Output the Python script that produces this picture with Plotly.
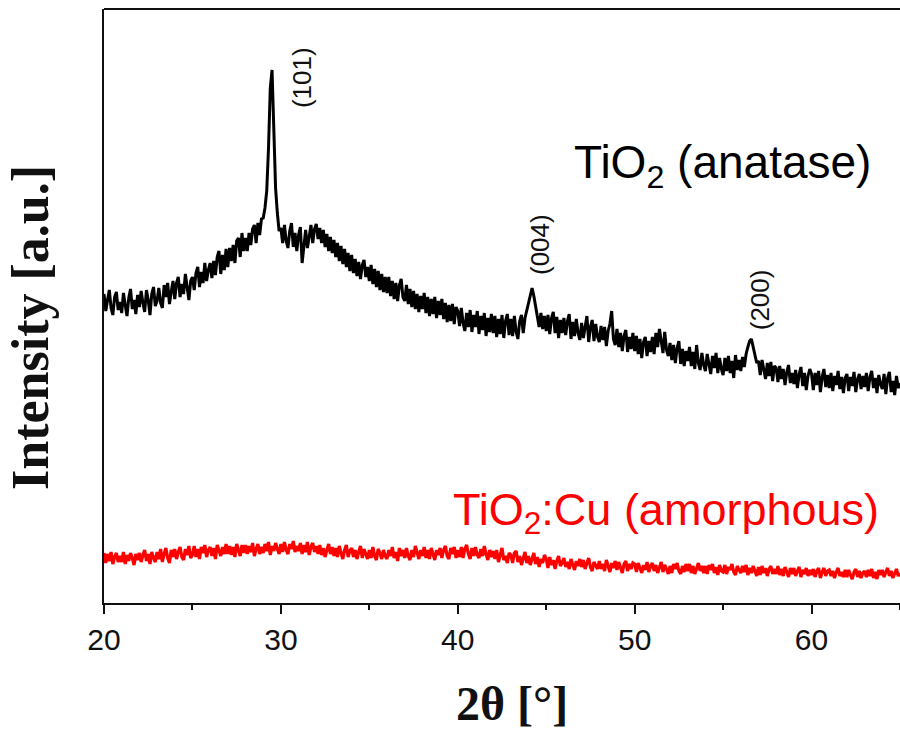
import numpy as np
import plotly.graph_objects as go

# 2-theta scan: 20.0 .. 65.0 deg in 0.1 deg steps
TWO_THETA_START = 20.0
TWO_THETA_STEP = 0.1

# TiO2 (anatase) diffractogram, intensity in arbitrary units (one row per degree)
tio2_anatase = [
    309, 292, 303, 313, 295, 288, 306, 311, 293, 301,
    290, 310, 298, 287, 305, 314, 294, 303, 289, 308,
    296, 312, 300, 291, 313, 303, 288, 309, 316, 297,
    302, 315, 300, 295, 318, 306, 320, 299, 311, 322,
    304, 320, 326, 306, 319, 309, 329, 315, 303, 322,
    326, 313, 330, 336, 316, 331, 320, 340, 322, 333,
    340, 325, 342, 328, 346, 352, 329, 348, 333, 354,
    336, 355, 342, 358, 340, 362, 365, 346, 370, 352,
    365, 352, 370, 358, 374, 378, 360, 380, 368, 384,
    385, 395, 412, 455, 515, 533, 470, 415, 390, 372,
    375, 360, 378, 362, 355, 372, 380, 356, 370, 352,
    368, 376, 340, 360, 373, 355, 369, 378, 360, 374,
    379, 364, 375, 360, 373, 356, 369, 352, 366, 350,
    363, 346, 360, 342, 357, 339, 354, 336, 350, 332,
    348, 330, 344, 327, 341, 324, 338, 343, 326, 336,
    322, 338, 319, 334, 316, 332, 313, 329, 311, 326,
    310, 326, 307, 322, 304, 320, 302, 318, 324, 306,
    302, 318, 299, 314, 296, 312, 294, 309, 291, 307,
    294, 310, 290, 306, 287, 304, 289, 306, 285, 302,
    288, 304, 284, 300, 281, 298, 282, 299, 279, 296,
    292, 277, 295, 280, 272, 290, 276, 293, 271, 288,
    276, 292, 269, 287, 273, 290, 267, 285, 271, 289,
    270, 287, 266, 284, 269, 288, 265, 282, 289, 268,
    284, 267, 287, 271, 264, 282, 288, 270, 285, 293,
    302, 310, 315, 307, 295, 284, 276, 290, 274, 287,
    272, 288, 269, 285, 291, 270, 286, 265, 283, 270,
    285, 268, 282, 289, 264, 281, 267, 284, 270, 263,
    280, 265, 277, 287, 261, 276, 283, 262, 279, 266,
    261, 277, 263, 276, 257, 272, 279, 292, 264, 258,
    274, 256, 270, 252, 267, 273, 251, 266, 254, 270,
    252, 267, 249, 264, 245, 261, 266, 247, 262, 251,
    266, 249, 270, 256, 274, 262, 250, 271, 253, 247,
    260, 243, 258, 240, 255, 262, 239, 254, 237, 252,
    242, 256, 237, 251, 234, 258, 240, 233, 250, 238,
    232, 249, 237, 229, 247, 235, 250, 230, 245, 234,
    228, 245, 232, 247, 230, 242, 225, 248, 233, 243,
    232, 246, 236, 249, 256, 262, 264, 257, 249, 240,
    242, 228, 243, 232, 224, 240, 227, 241, 222, 237,
    235, 221, 237, 224, 234, 218, 231, 238, 220, 230,
    219, 233, 215, 229, 236, 217, 230, 213, 227, 234,
    229, 213, 230, 218, 232, 211, 226, 234, 216, 228,
    215, 230, 212, 227, 218, 232, 214, 226, 210, 225,
    229, 212, 226, 217, 231, 211, 224, 229, 214, 227,
    216, 230, 212, 226, 232, 215, 225, 210, 228, 219,
    214, 229, 209, 225, 231, 211, 222, 208, 227, 215,
    220,
]

# TiO2:Cu (amorphous) diffractogram
tio2_cu = [
    50, 40, 49, 42, 51, 39, 46, 50, 41, 47,
    41, 51, 39, 48, 42, 50, 45, 38, 49, 43,
    50, 41, 48, 53, 42, 49, 39, 51, 45, 41,
    51, 44, 54, 41, 49, 55, 45, 40, 53, 46,
    54, 44, 51, 56, 46, 43, 54, 48, 57, 45,
    48, 57, 46, 54, 44, 56, 50, 58, 46, 53,
    56, 47, 55, 44, 58, 52, 47, 56, 49, 59,
    49, 57, 48, 56, 46, 59, 53, 47, 58, 50,
    58, 49, 57, 51, 60, 47, 54, 59, 49, 56,
    50, 59, 52, 61, 48, 57, 52, 60, 54, 49,
    59, 51, 61, 53, 49, 59, 54, 62, 51, 57,
    52, 60, 49, 58, 51, 61, 48, 56, 60, 51,
    57, 49, 58, 48, 55, 46, 53, 59, 49, 56,
    47, 55, 46, 57, 50, 44, 53, 58, 46, 52,
    55, 46, 53, 44, 51, 57, 45, 54, 49, 44,
    53, 45, 56, 47, 43, 54, 50, 44, 53, 47,
    44, 53, 47, 56, 45, 51, 42, 55, 47, 53,
    45, 55, 47, 43, 53, 46, 57, 50, 44, 53,
    47, 56, 45, 53, 44, 55, 50, 43, 53, 48,
    55, 45, 53, 57, 47, 44, 55, 49, 56, 45,
    53, 46, 56, 45, 54, 58, 49, 44, 55, 47,
    56, 48, 45, 54, 47, 57, 49, 43, 53, 46,
    52, 44, 53, 41, 48, 55, 43, 47, 40, 50,
    48, 40, 50, 52, 41, 47, 38, 44, 51, 40,
    47, 38, 45, 50, 39, 46, 36, 44, 40, 48,
    44, 35, 46, 38, 43, 34, 42, 47, 37, 40,
    45, 36, 41, 34, 44, 39, 33, 42, 37, 44,
    36, 43, 34, 40, 45, 36, 32, 41, 38, 34,
    42, 34, 39, 32, 43, 36, 31, 40, 35, 42,
    33, 41, 36, 30, 39, 42, 32, 39, 34, 40,
    39, 31, 40, 35, 30, 38, 33, 41, 31, 37,
    40, 32, 38, 30, 36, 41, 31, 38, 34, 29,
    37, 30, 39, 34, 40, 32, 29, 37, 31, 39,
    32, 39, 30, 37, 29, 36, 40, 32, 37, 30,
    37, 29, 38, 33, 39, 30, 36, 28, 38, 32,
    31, 38, 29, 36, 33, 39, 31, 28, 37, 33,
    30, 37, 31, 38, 28, 35, 30, 37, 32, 27,
    36, 28, 37, 30, 35, 27, 34, 37, 29, 34,
    29, 37, 28, 34, 27, 36, 31, 26, 35, 29,
    35, 27, 32, 36, 26, 33, 29, 35, 27, 33,
    28, 34, 26, 32, 35, 25, 31, 35, 27, 32,
    33, 27, 32, 25, 31, 35, 27, 31, 26, 33,
    26, 33, 28, 24, 31, 34, 26, 32, 25, 30,
    32, 26, 33, 27, 34, 25, 31, 24, 33, 28,
    33, 26, 31, 35, 27, 32, 25, 30, 34, 27,
    30,
]

# Miller indices of the anatase reflections and where their labels sit
peak_labels = ["(101)", "(004)", "(200)"]
peak_label_x = [31.2, 44.65, 57.1]
peak_label_y = [525, 358, 303]

x_ticks = [20, 30, 40, 50, 60]

two_theta = TWO_THETA_START + TWO_THETA_STEP * np.arange(len(tio2_anatase))

SANS = "Liberation Sans, Arial, sans-serif"
SERIF = "Liberation Serif, Times New Roman, serif"

fig = go.Figure()
fig.add_trace(go.Scatter(x=two_theta, y=tio2_anatase, mode="lines",
                         line=dict(color="#000000", width=3),
                         name="TiO2 (anatase)", showlegend=False))
fig.add_trace(go.Scatter(x=two_theta, y=tio2_cu, mode="lines",
                         line=dict(color="#ff0000", width=3.2),
                         name="TiO2:Cu (amorphous)", showlegend=False))

annotations = []
for lab, lx, ly in zip(peak_labels, peak_label_x, peak_label_y):
    annotations.append(dict(x=lx, y=ly, xref="x", yref="y", text=lab,
                            textangle=-90, showarrow=False,
                            font=dict(family=SANS, size=26, color="#111111"),
                            xanchor="center", yanchor="middle"))

annotations.append(dict(x=54.94, y=438, xref="x", yref="y",
                        text="TiO<sub>2</sub> (anatase)", showarrow=False,
                        font=dict(family=SANS, size=46, color="#000000"),
                        xanchor="center", yanchor="middle"))
annotations.append(dict(x=51.77, y=91, xref="x", yref="y",
                        text="TiO<sub>2</sub>:Cu (amorphous)", showarrow=False,
                        font=dict(family=SANS, size=45, color="#ff0000"),
                        xanchor="center", yanchor="middle"))

# axis titles
annotations.append(dict(x=0.5126, y=-0.1684, xref="paper", yref="paper",
                        text="<b>2θ [°]</b>", showarrow=False,
                        font=dict(family=SERIF, size=48, color="#111111"),
                        xanchor="center", yanchor="middle"))
annotations.append(dict(x=-0.093, y=0.4646, xref="paper", yref="paper",
                        text="<b>Intensity [a.u.]</b>", showarrow=False,
                        textangle=-90,
                        font=dict(family=SERIF, size=52, color="#111111"),
                        xanchor="center", yanchor="middle"))

fig.update_layout(
    width=900, height=729,
    margin=dict(l=104, r=0, t=9, b=126),
    paper_bgcolor="white", plot_bgcolor="white",
    annotations=annotations,
    shapes=[dict(type="line", xref="paper", yref="paper",
                 x0=0, x1=1, y0=1, y1=1,
                 line=dict(color="#111111", width=2))],
)
fig.update_xaxes(range=[20, 65], tickvals=x_ticks, ticks="outside",
                 ticklen=9, tickwidth=2, tickcolor="#111111",
                 minor=dict(dtick=5, tick0=25, ticks="outside", ticklen=5,
                            tickwidth=2, tickcolor="#111111"),
                 showline=True, linecolor="#111111", linewidth=2,
                 showgrid=False, zeroline=False,
                 tickfont=dict(family=SANS, size=30, color="#111111"))
fig.update_yaxes(range=[0, 594], showticklabels=False, ticks="",
                 showline=True, linecolor="#111111", linewidth=2,
                 showgrid=False, zeroline=False)

fig.write_html("out.html")
